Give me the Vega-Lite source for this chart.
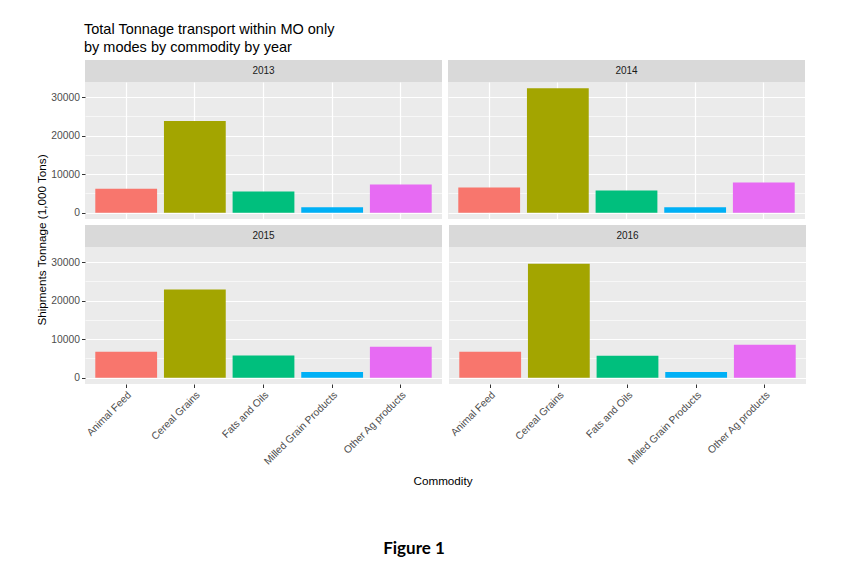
{
  "$schema": "https://vega.github.io/schema/vega-lite/v6.json",
  "background": "white",
  "padding": {"left": 34, "top": 21, "right": 5, "bottom": 5},
  "datasets": {
    "tons": [
      {"year": 2013, "commodity": "Animal Feed", "tons": 6230},
      {"year": 2013, "commodity": "Cereal Grains", "tons": 23800},
      {"year": 2013, "commodity": "Fats and Oils", "tons": 5530},
      {"year": 2013, "commodity": "Milled Grain Products", "tons": 1450},
      {"year": 2013, "commodity": "Other Ag products", "tons": 7350},
      {"year": 2014, "commodity": "Animal Feed", "tons": 6570},
      {"year": 2014, "commodity": "Cereal Grains", "tons": 32290},
      {"year": 2014, "commodity": "Fats and Oils", "tons": 5790},
      {"year": 2014, "commodity": "Milled Grain Products", "tons": 1450},
      {"year": 2014, "commodity": "Other Ag products", "tons": 7870},
      {"year": 2015, "commodity": "Animal Feed", "tons": 6740},
      {"year": 2015, "commodity": "Cereal Grains", "tons": 22900},
      {"year": 2015, "commodity": "Fats and Oils", "tons": 5790},
      {"year": 2015, "commodity": "Milled Grain Products", "tons": 1480},
      {"year": 2015, "commodity": "Other Ag products", "tons": 8040},
      {"year": 2016, "commodity": "Animal Feed", "tons": 6740},
      {"year": 2016, "commodity": "Cereal Grains", "tons": 29560},
      {"year": 2016, "commodity": "Fats and Oils", "tons": 5700},
      {"year": 2016, "commodity": "Milled Grain Products", "tons": 1480},
      {"year": 2016, "commodity": "Other Ag products", "tons": 8560}
    ],
    "ytitle": [{"text": "Shipments Tonnage (1,000 Tons)"}],
    "xtitle": [{"text": "Commodity"}],
    "caption": [{"text": "Figure 1"}]
  },
  "config": {
    "font": "Liberation Sans",
    "axis": {
      "domain": false,
      "gridColor": "#FFFFFF",
      "labelFont": "Liberation Sans",
      "labelFontSize": 10.3,
      "labelColor": "#4D4D4D",
      "tickColor": "#333333",
      "tickSize": 3.5,
      "tickWidth": 1,
      "labelPadding": 2,
      "titleFont": "Liberation Sans",
      "titleFontSize": 11.7,
      "titleFontWeight": "normal",
      "titleColor": "#000000"
    },
    "concat": {"spacing": 6}
  },
  "title": {
    "text": ["Total Tonnage transport within MO only", "\u2002by modes by commodity by year"],
    "anchor": "start",
    "frame": "bounds",
    "dx": 50,
    "font": "Liberation Sans",
    "fontSize": 14.5,
    "fontWeight": "normal",
    "color": "#000000",
    "lineHeight": 18,
    "offset": 5
  },
  "spacing": 0,
  "vconcat": [
    {
      "spacing": 0,
      "hconcat": [
        {
          "width": 16, "height": 360,
          "data": {"name": "ytitle"},
          "mark": {"type": "text", "angle": 270, "fontSize": 11.7, "color": "#000000", "font": "Liberation Sans"},
          "encoding": {"text": {"field": "text"}},
          "view": {"stroke": null}
        },
        {
          "spacing": 6,
          "vconcat": [
            {
              "spacing": 6,
              "hconcat": [
                {
                  "spacing": 0,
                  "vconcat": [
                    {
                      "width": 357, "height": 22,
                      "data": {"values": [{"year": "2013"}]},
                      "mark": {"type": "text", "fontSize": 10, "color": "#1A1A1A", "font": "Liberation Sans"},
                      "encoding": {"text": {"field": "year"}},
                      "view": {"fill": "#D9D9D9", "stroke": null}
                    },
                    {
                      "width": 357, "height": 137,
                      "data": {"name": "tons"},
                      "transform": [{"filter": "datum.year == 2013"}],
                      "mark": {"type": "bar"},
                      "encoding": {
                        "x": {"field": "commodity", "type": "nominal", "sort": null,
                          "scale": {"paddingInner": 0.1, "paddingOuter": 0.15},
                          "axis": {"title": null, "labels": false, "ticks": false, "grid": true, "gridWidth": 1.2, "bandPosition": 0.5}},
                        "y": {"field": "tons", "type": "quantitative",
                          "scale": {"domain": [-1615, 33905], "nice": false, "zero": false},
                          "axis": {"values": [0, 5000, 10000, 15000, 20000, 25000, 30000], "format": "d",
                            "labelExpr": "datum.value % 10000 === 0 ? datum.label : ''",
                            "gridWidth": {"condition": {"test": "datum.value % 10000 === 0", "value": 1.2}, "value": 0.6},
                            "tickOpacity": {"condition": {"test": "datum.value % 10000 === 0", "value": 1}, "value": 0},
                            "title": null}},
                        "color": {"field": "commodity", "type": "nominal",
                          "scale": {"domain": ["Animal Feed", "Cereal Grains", "Fats and Oils", "Milled Grain Products", "Other Ag products"],
                            "range": ["#F8766D", "#A3A500", "#00BF7D", "#00B0F6", "#E76BF3"]}, "legend": null}
                      },
                      "view": {"fill": "#EBEBEB", "stroke": null}
                    }
                  ]
                },
                {
                  "spacing": 0,
                  "vconcat": [
                    {
                      "width": 357, "height": 22,
                      "data": {"values": [{"year": "2014"}]},
                      "mark": {"type": "text", "fontSize": 10, "color": "#1A1A1A", "font": "Liberation Sans"},
                      "encoding": {"text": {"field": "year"}},
                      "view": {"fill": "#D9D9D9", "stroke": null}
                    },
                    {
                      "width": 357, "height": 137,
                      "data": {"name": "tons"},
                      "transform": [{"filter": "datum.year == 2014"}],
                      "mark": {"type": "bar"},
                      "encoding": {
                        "x": {"field": "commodity", "type": "nominal", "sort": null,
                          "scale": {"paddingInner": 0.1, "paddingOuter": 0.15},
                          "axis": {"title": null, "labels": false, "ticks": false, "grid": true, "gridWidth": 1.2, "bandPosition": 0.5}},
                        "y": {"field": "tons", "type": "quantitative",
                          "scale": {"domain": [-1615, 33905], "nice": false, "zero": false},
                          "axis": {"values": [0, 5000, 10000, 15000, 20000, 25000, 30000],
                            "labels": false, "ticks": false, "title": null,
                            "gridWidth": {"condition": {"test": "datum.value % 10000 === 0", "value": 1.2}, "value": 0.6}}},
                        "color": {"field": "commodity", "type": "nominal",
                          "scale": {"domain": ["Animal Feed", "Cereal Grains", "Fats and Oils", "Milled Grain Products", "Other Ag products"],
                            "range": ["#F8766D", "#A3A500", "#00BF7D", "#00B0F6", "#E76BF3"]}, "legend": null}
                      },
                      "view": {"fill": "#EBEBEB", "stroke": null}
                    }
                  ]
                }
              ]
            },
            {
              "spacing": 6,
              "hconcat": [
                {
                  "spacing": 0,
                  "vconcat": [
                    {
                      "width": 357, "height": 22,
                      "data": {"values": [{"year": "2015"}]},
                      "mark": {"type": "text", "fontSize": 10, "color": "#1A1A1A", "font": "Liberation Sans"},
                      "encoding": {"text": {"field": "year"}},
                      "view": {"fill": "#D9D9D9", "stroke": null}
                    },
                    {
                      "width": 357, "height": 137,
                      "data": {"name": "tons"},
                      "transform": [{"filter": "datum.year == 2015"}],
                      "mark": {"type": "bar"},
                      "encoding": {
                        "x": {"field": "commodity", "type": "nominal", "sort": null,
                          "scale": {"paddingInner": 0.1, "paddingOuter": 0.15},
                          "axis": {"labelAngle": -45, "gridWidth": 1.2, "bandPosition": 0.5, "title": null}},
                        "y": {"field": "tons", "type": "quantitative",
                          "scale": {"domain": [-1615, 33905], "nice": false, "zero": false},
                          "axis": {"values": [0, 5000, 10000, 15000, 20000, 25000, 30000], "format": "d",
                            "labelExpr": "datum.value % 10000 === 0 ? datum.label : ''",
                            "gridWidth": {"condition": {"test": "datum.value % 10000 === 0", "value": 1.2}, "value": 0.6},
                            "tickOpacity": {"condition": {"test": "datum.value % 10000 === 0", "value": 1}, "value": 0},
                            "title": null}},
                        "color": {"field": "commodity", "type": "nominal",
                          "scale": {"domain": ["Animal Feed", "Cereal Grains", "Fats and Oils", "Milled Grain Products", "Other Ag products"],
                            "range": ["#F8766D", "#A3A500", "#00BF7D", "#00B0F6", "#E76BF3"]}, "legend": null}
                      },
                      "view": {"fill": "#EBEBEB", "stroke": null}
                    }
                  ]
                },
                {
                  "spacing": 0,
                  "vconcat": [
                    {
                      "width": 357, "height": 22,
                      "data": {"values": [{"year": "2016"}]},
                      "mark": {"type": "text", "fontSize": 10, "color": "#1A1A1A", "font": "Liberation Sans"},
                      "encoding": {"text": {"field": "year"}},
                      "view": {"fill": "#D9D9D9", "stroke": null}
                    },
                    {
                      "width": 357, "height": 137,
                      "data": {"name": "tons"},
                      "transform": [{"filter": "datum.year == 2016"}],
                      "mark": {"type": "bar"},
                      "encoding": {
                        "x": {"field": "commodity", "type": "nominal", "sort": null,
                          "scale": {"paddingInner": 0.1, "paddingOuter": 0.15},
                          "axis": {"labelAngle": -45, "gridWidth": 1.2, "bandPosition": 0.5, "title": null}},
                        "y": {"field": "tons", "type": "quantitative",
                          "scale": {"domain": [-1615, 33905], "nice": false, "zero": false},
                          "axis": {"values": [0, 5000, 10000, 15000, 20000, 25000, 30000],
                            "labels": false, "ticks": false, "title": null,
                            "gridWidth": {"condition": {"test": "datum.value % 10000 === 0", "value": 1.2}, "value": 0.6}}},
                        "color": {"field": "commodity", "type": "nominal",
                          "scale": {"domain": ["Animal Feed", "Cereal Grains", "Fats and Oils", "Milled Grain Products", "Other Ag products"],
                            "range": ["#F8766D", "#A3A500", "#00BF7D", "#00B0F6", "#E76BF3"]}, "legend": null}
                      },
                      "view": {"fill": "#EBEBEB", "stroke": null}
                    }
                  ]
                }
              ]
            }
          ]
        }
      ]
    },
    {
      "spacing": 39,
      "vconcat": [
        {
          "width": 818, "height": 28,
          "data": {"name": "xtitle"},
          "mark": {"type": "text", "fontSize": 11.7, "color": "#000000", "font": "Liberation Sans"},
          "encoding": {"text": {"field": "text"}},
          "view": {"stroke": null}
        },
        {
          "width": 760, "height": 30,
          "data": {"name": "caption"},
          "mark": {"type": "text", "font": "Lato", "fontWeight": "bold", "fontSize": 17, "color": "#000000"},
          "encoding": {"text": {"field": "text"}},
          "view": {"stroke": null}
        }
      ]
    }
  ]
}
